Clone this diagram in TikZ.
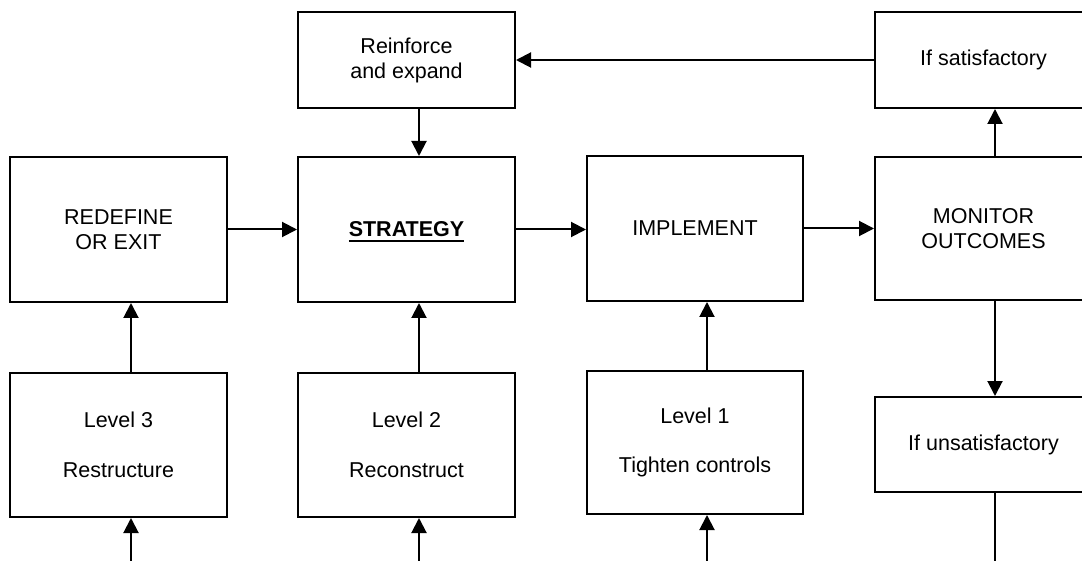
\documentclass[tikz,border=0pt]{standalone}
\usepackage{fontspec}
\setmainfont{Liberation Sans}
\usetikzlibrary{arrows.meta}
\newsavebox\ulbox
\newcommand\myul[1]{\sbox\ulbox{#1}\smash{\rlap{\vrule height -3pt depth 5pt width \wd\ulbox}}\usebox\ulbox}
\begin{document}
\begin{tikzpicture}[x=1pt,y=-1pt,
  box/.style={draw=black, line width=2pt, fill=white, align=center, inner sep=0pt,
    font=\fontsize{21.5}{25}\selectfont},
  arr/.style={line width=2pt, -{Triangle[length=15pt,width=15pt]}},
  ln/.style={line width=2pt}]
\useasboundingbox (0,0) rectangle (1082,561);
\clip (0,0) rectangle (1082,561);
% columns for connectors
\coordinate (c1) at (131,0);
\coordinate (c2) at (419,0);
\coordinate (c3) at (707,0);
\coordinate (c4) at (995,0);
% top row
\node[box, minimum width=217pt, minimum height=96pt] (reinf) at (406.5,60) {Reinforce\\and expand};
\node[box, minimum width=217pt, minimum height=96pt] (sat) at (983.5,60) {If satisfactory};
% middle row
\node[box, minimum width=217pt, minimum height=145pt] (redef) at (118.5,229.5) {REDEFINE\\OR EXIT};
\node[box, minimum width=217pt, minimum height=145pt] (strat) at (406.5,229.5) {\textbf{\myul{STRATEGY}}};
\node[box, minimum width=216pt, minimum height=145pt] (impl) at (695,228.5) {IMPLEMENT};
\node[box, minimum width=217pt, minimum height=143pt] (mon) at (983.5,228.5) {MONITOR\\OUTCOMES};
% bottom row
\node[box, minimum width=217pt, minimum height=144pt] (l3) at (118.5,445) {Level 3\\[24.5pt]Restructure};
\node[box, minimum width=217pt, minimum height=144pt] (l2) at (406.5,445) {Level 2\\[24.5pt]Reconstruct};
\node[box, minimum width=216pt, minimum height=143pt] (l1) at (695,442.5) {Level 1\\[24.5pt]Tighten controls};
\node[box, minimum width=217pt, minimum height=95pt] (unsat) at (983.5,444.5) {If unsatisfactory};
% free ends at the bottom edge
\coordinate (b1) at (131,561);
\coordinate (b2) at (419,561);
\coordinate (b3) at (707,561);
\coordinate (b4) at (995,561);
% connectors
\draw[arr] (sat.west) -- (reinf.east);
\draw[arr] (reinf.south -| c2) -- (strat.north -| c2);
\draw[arr] (redef.east) -- (strat.west);
\draw[arr] (strat.east) -- (impl.west |- strat.east);
\draw[arr] (impl.east) -- (mon.west);
\draw[arr] (mon.north -| c4) -- (sat.south -| c4);
\draw[arr] (mon.south -| c4) -- (unsat.north -| c4);
\draw[ln] (unsat.south -| c4) -- (b4);
\draw[arr] (l3.north -| c1) -- (redef.south -| c1);
\draw[arr] (l2.north -| c2) -- (strat.south -| c2);
\draw[arr] (l1.north -| c3) -- (impl.south -| c3);
\draw[arr] (b1) -- (l3.south -| c1);
\draw[arr] (b2) -- (l2.south -| c2);
\draw[arr] (b3) -- (l1.south -| c3);
\end{tikzpicture}
\end{document}
